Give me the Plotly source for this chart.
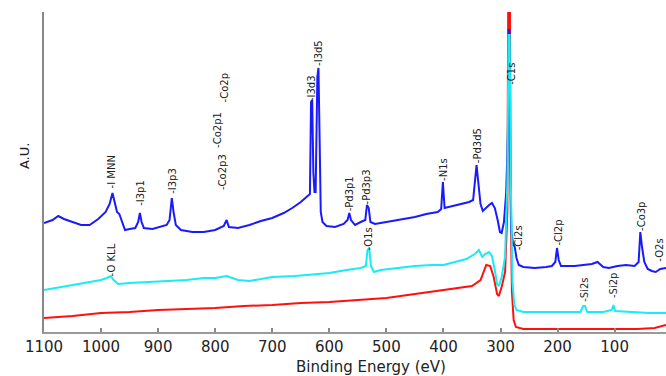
import plotly.graph_objects as go

# ---- data (binding energy in eV, intensity in arbitrary units) ----
red_be = [1100, 1050, 1000, 950, 900, 850, 800, 750, 700, 650, 600, 550, 500, 450, 400, 370, 350, 335, 325, 318, 312, 306, 303, 298, 292, 288, 286, 284, 282, 280, 277, 273, 260, 200, 150, 100, 60, 30, 15, 10]
red_int = [14, 16, 19, 20, 22, 23, 24, 26, 27, 29, 30, 32, 34, 38, 42, 44, 46, 52, 67, 66, 55, 38, 36, 45, 60, 120, 400, 400, 120, 40, 12, 5, 3, 3, 3, 3, 3, 4, 6, 7]

cyan_be = [1100, 1080, 1060, 1040, 1020, 1000, 990, 983, 978, 970, 950, 920, 900, 870, 850, 820, 800, 780, 760, 740, 720, 700, 660, 620, 600, 570, 545, 536, 533, 530, 527, 522, 510, 480, 450, 420, 400, 380, 360, 345, 338, 332, 327, 320, 315, 310, 306, 303, 298, 292, 288, 286, 284, 282, 279, 276, 272, 260, 220, 180, 160, 155, 152, 148, 120, 105, 102, 99, 70, 40, 10]
cyan_int = [42, 44, 46, 48, 50, 52, 54, 56, 52, 48, 49, 50, 50, 51, 52, 54, 54, 56, 52, 51, 53, 55, 56, 58, 59, 62, 64, 66, 82, 84, 66, 60, 62, 64, 66, 67, 67, 70, 73, 78, 82, 75, 78, 80, 76, 62, 48, 46, 55, 75, 150, 297, 297, 150, 50, 28, 22, 20, 20, 20, 20, 26, 26, 20, 20, 22, 27, 21, 20, 19, 19]

blue_be = [1100, 1085, 1075, 1065, 1050, 1035, 1020, 1005, 992, 985, 980, 976, 972, 968, 964, 958, 950, 940, 935, 932, 929, 925, 910, 895, 885, 880, 876, 873, 869, 860, 840, 820, 800, 785, 780, 776, 760, 740, 720, 700, 680, 665, 650, 640, 634, 632, 630, 628, 626, 624, 621, 619, 617, 615, 612, 605, 590, 575, 568, 565, 562, 555, 545, 537, 534, 531, 528, 520, 500, 470, 450, 430, 410, 404, 401, 398, 390, 370, 355, 348, 345, 342, 339, 335, 331, 326, 320, 315, 310, 305, 301, 298, 294, 290, 287, 285.5, 284.5, 283, 281, 278, 275, 272, 268, 260, 240, 220, 210, 204, 201, 198, 194, 170, 150, 140, 130, 120, 110, 95, 80, 65, 58, 55, 52, 48, 42, 35, 28, 20, 10]
blue_int = [109, 112, 116, 113, 110, 107, 107, 113, 120, 128, 139, 130, 120, 118, 112, 102, 103, 104, 110, 119, 110, 104, 103, 105, 107, 112, 134, 120, 107, 102, 100, 100, 102, 106, 112, 105, 104, 107, 111, 114, 119, 124, 130, 135, 138, 230, 232, 160, 140, 140, 255, 264, 190, 120, 110, 106, 105, 108, 112, 119, 112, 107, 110, 112, 127, 124, 110, 108, 110, 113, 115, 118, 120, 123, 150, 124, 125, 128, 130, 132, 150, 167, 150, 128, 121, 124, 127, 129, 124, 112, 100, 99, 110, 140, 200, 302, 302, 170, 100, 88, 85, 74, 67, 65, 64, 65, 66, 70, 84, 72, 66, 66, 67, 68, 70, 65, 64, 66, 67, 66, 70, 100, 85, 70, 63, 61, 60, 63, 64]

# peak labels: text, binding energy, label base height
label_text = ["-I MNN", "-I3p1", "-I3p3", "-Co2p3", "-Co2p1", "-Co2p", "-I3d3", "-I3d5",
              "-Pd3p1", "-Pd3p3", "-N1s", "-Pd3d5", "-C1s", "-Cl2s", "-Cl2p", "-Co3p", "-O2s",
              "-O KLL", "-O1s", "-Si2s", "-Si2p"]
label_be = [981, 932, 876, 788, 797, 783, 632, 620,
            564, 534, 400, 340, 282, 268, 200, 53, 22,
            981, 532, 154, 102]
label_base = [142, 124, 136, 140, 182, 228, 229, 264,
              119, 126, 149, 167, 245, 80, 84, 99, 68,
              54, 79, 28, 32]

x_ticks = [1100, 1000, 900, 800, 700, 600, 500, 400, 300, 200, 100]

fig = go.Figure()
fig.add_trace(go.Scatter(x=red_be, y=red_int, mode="lines",
                         line=dict(color="#ff1010", width=2), showlegend=False))
fig.add_trace(go.Scatter(x=blue_be, y=blue_int, mode="lines",
                         line=dict(color="#1a1aff", width=2), showlegend=False))
fig.add_trace(go.Scatter(x=cyan_be, y=cyan_int, mode="lines",
                         line=dict(color="#19ecf2", width=2), showlegend=False))

for t, b, h in zip(label_text, label_be, label_base):
    fig.add_annotation(x=b, y=h, text=t, showarrow=False, textangle=-90,
                       xanchor="center", yanchor="bottom",
                       font=dict(family="DejaVu Sans", size=10, color="#222222"))

fig.add_annotation(xref="paper", yref="paper", x=-0.032, y=0.55, text="A.U.",
                   showarrow=False, textangle=-90, xanchor="center", yanchor="middle",
                   font=dict(family="DejaVu Sans", size=13, color="#222222"))
fig.add_annotation(xref="paper", yref="paper", x=0.525, y=-0.075, text="Binding Energy (eV)",
                   showarrow=False, xanchor="center", yanchor="top",
                   font=dict(family="DejaVu Sans", size=15, color="#222222"))

fig.update_layout(
    width=666, height=376,
    margin=dict(l=44, r=0, t=12, b=44),
    paper_bgcolor="white", plot_bgcolor="white",
    xaxis=dict(range=[1100, 10], tickvals=x_ticks, ticks="inside", ticklen=4,
               tickcolor="#888888", tickwidth=1.5, showline=True, linecolor="#999999",
               linewidth=2, showgrid=False, zeroline=False,
               tickfont=dict(family="DejaVu Sans", size=15, color="#222222")),
    yaxis=dict(range=[0, 320], showticklabels=False, ticks="", showline=True,
               linecolor="#888888", linewidth=2, showgrid=False, zeroline=False),
)

fig.write_html("out.html", config={"displayModeBar": False},
               post_script="document.body.style.margin='0';")
